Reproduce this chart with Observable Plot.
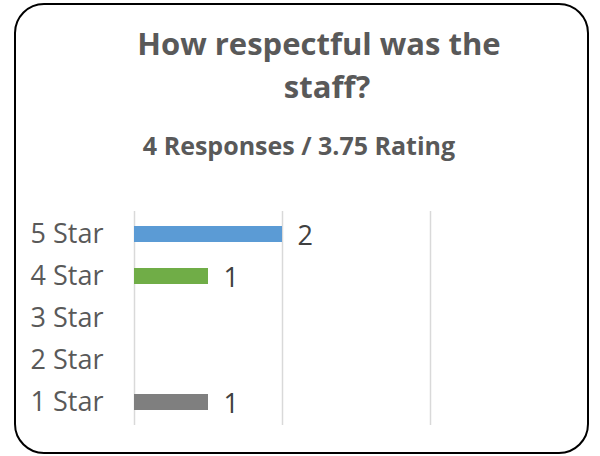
<!DOCTYPE html>
<html>
<head>
<meta charset="utf-8">
<script src="https://cdn.jsdelivr.net/npm/d3@7"></script>
<script src="https://cdn.jsdelivr.net/npm/@observablehq/plot@0.6"></script>
<style>
  html, body { margin: 0; padding: 0; background: #fff; }
  #wrap { position: relative; width: 600px; height: 456px; overflow: hidden; font-family: "Open Sans", sans-serif; }
  #frame { position: absolute; left: 14px; top: 3px; width: 571px; height: 447px; border: 2px solid #000; border-radius: 30px; }
  #head { position: absolute; left: 0; top: 0; }
  #chart { position: absolute; left: 0; top: 190px; }
</style>
</head>
<body>
<div id="wrap">
  <div id="frame"></div>
  <svg id="head" width="600" height="180" font-family="Open Sans, sans-serif" font-weight="bold" fill="#595959" text-anchor="middle">
    <text x="319" y="55" font-size="31">How respectful was the</text>
    <text x="327" y="98" font-size="31">staff?</text>
    <text x="299" y="155" font-size="25">4 Responses / 3.75 Rating</text>
  </svg>
  <div id="chart"></div>
</div>
<script>
const categories = ["5 Star", "4 Star", "3 Star", "2 Star", "1 Star"];
const counts = [2, 1, 0, 0, 1];
const colors = ["#5B9BD5", "#70AD47", "#A5A5A5", "#FFC000", "#7F7F7F"];
const gridTicks = [0, 2, 4];

const data = categories.map((c, i) => ({category: c, count: counts[i], color: colors[i]}));

const chart = Plot.plot({
  width: 600,
  height: 250,
  marginLeft: 134,
  marginRight: 22,
  marginTop: 21,
  marginBottom: 15,
  style: {fontFamily: "Open Sans, sans-serif", background: "transparent"},
  x: {domain: [0, 6], axis: null},
  y: {domain: categories, paddingInner: 0.63, paddingOuter: 0.315, label: null},
  marks: [
    Plot.ruleX(gridTicks, {stroke: "#D9D9D9", strokeWidth: 1.5}),
    Plot.barX(data, {y: "category", x: "count", fill: "color"}),
    Plot.text(data.filter(d => d.count > 0), {
      y: "category", x: "count", text: d => String(d.count),
      textAnchor: "start", dx: 15, dy: 2, fontSize: 27, fill: "#404040"
    }),
    Plot.axisY({tickSize: 0, tickPadding: 31, fontSize: 27, dy: 0, color: "#595959", label: null})
  ]
});
document.getElementById("chart").appendChild(chart);
</script>
</body>
</html>
